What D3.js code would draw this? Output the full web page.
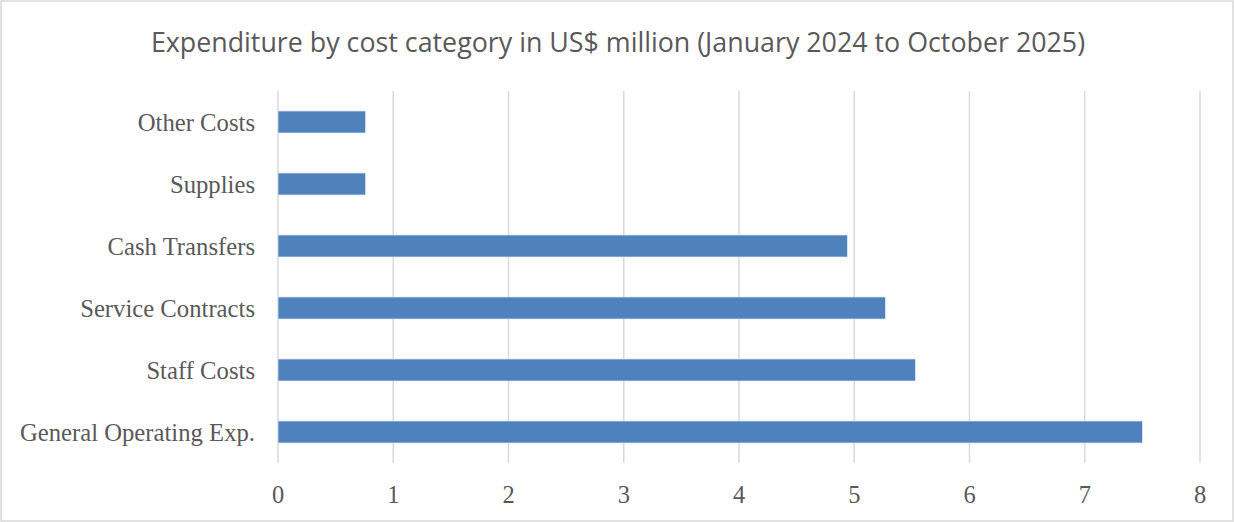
<!DOCTYPE html>
<html>
<head>
<meta charset="utf-8">
<script src="https://cdn.jsdelivr.net/npm/d3@7"></script>
<style>
  body { margin: 0; background: #fff; }
</style>
</head>
<body>
<svg id="svg" width="1234" height="522"></svg>
<script>
const svg = d3.select("#svg");

const categories = [
  "Other Costs",
  "Supplies",
  "Cash Transfers",
  "Service Contracts",
  "Staff Costs",
  "General Operating Exp.",
];
const values = [0.76, 0.76, 4.94, 5.27, 5.53, 7.5];
const xTicks = [0, 1, 2, 3, 4, 5, 6, 7, 8];

const width = 1234;
const height = 522;
const margin = { top: 91, right: 34, bottom: 59, left: 278 };

// chart frame
svg
  .append("rect")
  .attr("x", 1)
  .attr("y", 1)
  .attr("width", width - 2)
  .attr("height", height - 2)
  .style("fill", "#fff")
  .style("stroke", "#d9d9d9")
  .style("stroke-width", 1.5);

const x = d3
  .scaleLinear()
  .domain([0, 8])
  .range([margin.left, width - margin.right]);

const y = d3
  .scaleBand()
  .domain(categories)
  .range([margin.top, height - margin.bottom])
  .paddingInner(0.645)
  .paddingOuter(0.3225);

// vertical gridlines
svg
  .append("g")
  .selectAll("line")
  .data(xTicks)
  .join("line")
  .attr("x1", (d) => x(d))
  .attr("x2", (d) => x(d))
  .attr("y1", margin.top)
  .attr("y2", height - margin.bottom)
  .style("stroke", "#d9d9d9")
  .style("stroke-width", 1.5);

// bars
svg
  .append("g")
  .selectAll("rect")
  .data(values)
  .join("rect")
  .attr("x", x(0))
  .attr("y", (d, i) => y(categories[i]))
  .attr("width", (d) => x(d) - x(0))
  .attr("height", y.bandwidth())
  .style("fill", "#4f81bd")
  .style("stroke", "#dce6f2")
  .style("stroke-width", 0.75);

// category labels
svg
  .append("g")
  .selectAll("text")
  .data(categories)
  .join("text")
  .attr("x", margin.left - 23)
  .attr("y", (d) => y(d) + y.bandwidth() / 2 + 0.5)
  .attr("dy", "0.35em")
  .attr("text-anchor", "end")
  .style("font-family", "'Liberation Serif', serif")
  .style("font-size", "24.7px")
  .style("fill", "#595959")
  .text((d) => d);

// x tick labels
svg
  .append("g")
  .selectAll("text")
  .data(xTicks)
  .join("text")
  .attr("x", (d) => x(d))
  .attr("y", 494)
  .attr("dy", "0.35em")
  .attr("text-anchor", "middle")
  .style("font-family", "'Liberation Serif', serif")
  .style("font-size", "24.5px")
  .style("fill", "#595959")
  .text((d) => d);

// title
svg
  .append("text")
  .attr("x", 618)
  .attr("y", 43)
  .attr("dy", "0.35em")
  .attr("text-anchor", "middle")
  .style("font-family", "'Open Sans', sans-serif")
  .style("font-size", "26.8px")
  .style("fill", "#595959")
  .text("Expenditure by cost category in US$ million (January 2024 to October 2025)");
</script>
</body>
</html>
